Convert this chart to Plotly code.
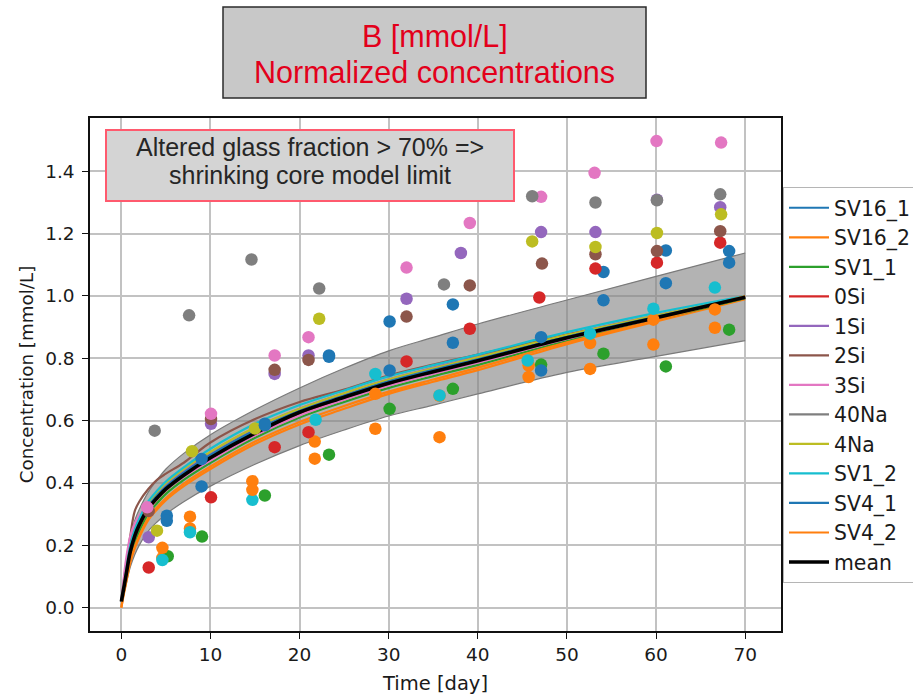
import plotly.graph_objects as go

# ---------------------------------------------------------------------------
# Measured boron concentrations (mmol/L) per experiment: sampling times (day)
# ---------------------------------------------------------------------------
t_SV16_1 = [5.1, 9.0, 16.1, 23.3, 30.1, 37.2, 47.1, 54.1, 61.1, 68.2]
c_SV16_1 = [0.295, 0.477, 0.590, 0.809, 0.918, 0.973, 0.868, 1.077, 1.146, 1.144]

t_SV16_2 = [4.6, 7.7, 14.7, 21.7, 28.5, 35.7, 45.7, 52.6, 59.7, 66.6]
c_SV16_2 = [0.160, 0.254, 0.406, 0.533, 0.686, 0.680, 0.777, 0.849, 0.924, 0.957]

t_SV1_1 = [5.2, 9.05, 16.1, 23.3, 30.1, 37.2, 47.1, 54.1, 61.1, 68.2]
c_SV1_1 = [0.165, 0.228, 0.360, 0.491, 0.638, 0.702, 0.780, 0.815, 0.774, 0.892]

t_0Si = [3.07, 10.06, 17.2, 21.0, 32.0, 39.1, 46.9, 53.2, 60.1, 67.2]
c_0Si = [0.129, 0.354, 0.515, 0.563, 0.790, 0.895, 0.995, 1.088, 1.107, 1.171]

t_1Si = [3.07, 10.06, 17.2, 21.0, 32.0, 38.1, 47.1, 53.2, 60.1, 67.2]
c_1Si = [0.226, 0.590, 0.750, 0.809, 0.991, 1.138, 1.205, 1.205, 1.309, 1.285]

t_2Si = [3.07, 10.06, 17.2, 21.0, 32.0, 39.1, 47.2, 53.2, 60.1, 67.2]
c_2Si = [0.310, 0.605, 0.763, 0.795, 0.934, 1.034, 1.104, 1.134, 1.144, 1.208]

t_3Si = [2.9, 10.06, 17.2, 21.0, 32.0, 39.1, 47.1, 53.1, 60.05, 67.3]
c_3Si = [0.322, 0.622, 0.809, 0.868, 1.091, 1.234, 1.318, 1.395, 1.497, 1.492]

t_40Na = [3.74, 7.6, 14.6, 22.2, 36.2, 46.1, 53.2, 60.1, 67.2]
c_40Na = [0.568, 0.938, 1.117, 1.024, 1.037, 1.320, 1.300, 1.307, 1.326]

t_4Na = [4.0, 7.93, 15.0, 22.2, 46.1, 53.2, 60.1, 67.3]
c_4Na = [0.247, 0.502, 0.575, 0.927, 1.175, 1.157, 1.202, 1.262]

t_SV1_2 = [4.6, 7.7, 14.7, 21.8, 28.5, 35.7, 45.6, 52.6, 59.7, 66.6]
c_SV1_2 = [0.153, 0.242, 0.346, 0.603, 0.750, 0.681, 0.793, 0.879, 0.959, 1.027]

t_SV4_1 = [5.1, 9.0, 16.1, 23.3, 30.1, 37.2, 47.1, 54.1, 61.1, 68.2]
c_SV4_1 = [0.279, 0.389, 0.585, 0.805, 0.761, 0.850, 0.761, 0.986, 1.041, 1.107]

t_SV4_2 = [4.6, 7.7, 14.7, 21.7, 28.5, 35.7, 45.7, 52.6, 59.7, 66.6]
c_SV4_2 = [0.192, 0.292, 0.378, 0.478, 0.574, 0.547, 0.740, 0.766, 0.844, 0.898]

# ---------------------------------------------------------------------------
# Shrinking-core model curves, evaluated on a common time grid (day)
# ---------------------------------------------------------------------------
t_model = [0, 0.25, 0.5, 1, 1.5, 2, 3, 4, 5, 7, 10, 15, 20, 25, 30, 35, 40, 50, 60, 70]

m_SV16_1 = [0.02, 0.06, 0.105, 0.19, 0.24, 0.275, 0.33, 0.365, 0.393, 0.438, 0.495, 0.573, 0.635, 0.685, 0.73, 0.767, 0.80, 0.872, 0.935, 0.997]
m_SV16_2 = [0.00, 0.04, 0.075, 0.145, 0.19, 0.225, 0.28, 0.315, 0.345, 0.39, 0.445, 0.525, 0.588, 0.638, 0.686, 0.725, 0.762, 0.845, 0.918, 0.99]
m_SV1_1 = [0.02, 0.05, 0.09, 0.165, 0.21, 0.245, 0.30, 0.335, 0.365, 0.41, 0.465, 0.545, 0.61, 0.66, 0.705, 0.743, 0.779, 0.856, 0.924, 0.993]
m_0Si = [0.02, 0.055, 0.095, 0.175, 0.225, 0.26, 0.313, 0.348, 0.377, 0.421, 0.477, 0.556, 0.623, 0.672, 0.717, 0.754, 0.789, 0.864, 0.929, 0.995]
m_1Si = [0.02, 0.07, 0.115, 0.20, 0.25, 0.285, 0.335, 0.368, 0.395, 0.44, 0.497, 0.577, 0.638, 0.688, 0.733, 0.77, 0.805, 0.876, 0.938, 0.998]
m_2Si = [0.02, 0.08, 0.13, 0.23, 0.31, 0.34, 0.38, 0.41, 0.43, 0.465, 0.53, 0.605, 0.66, 0.70, 0.745, 0.78, 0.812, 0.876, 0.935, 0.995]
m_3Si = [0.02, 0.09, 0.15, 0.23, 0.27, 0.295, 0.33, 0.355, 0.38, 0.42, 0.472, 0.552, 0.617, 0.667, 0.712, 0.75, 0.786, 0.862, 0.928, 0.995]
m_40Na = [0.02, 0.065, 0.105, 0.185, 0.235, 0.27, 0.322, 0.356, 0.385, 0.428, 0.484, 0.563, 0.63, 0.678, 0.722, 0.759, 0.794, 0.868, 0.931, 0.996]
m_4Na = [0.02, 0.06, 0.105, 0.195, 0.245, 0.28, 0.335, 0.37, 0.40, 0.445, 0.50, 0.578, 0.638, 0.688, 0.732, 0.768, 0.803, 0.875, 0.937, 0.998]
m_SV1_2 = [0.02, 0.06, 0.11, 0.20, 0.25, 0.285, 0.34, 0.375, 0.405, 0.45, 0.51, 0.59, 0.65, 0.697, 0.742, 0.778, 0.812, 0.884, 0.946, 1.0]
m_SV4_1 = [0.02, 0.06, 0.10, 0.185, 0.235, 0.27, 0.325, 0.36, 0.388, 0.433, 0.49, 0.567, 0.631, 0.68, 0.726, 0.763, 0.797, 0.869, 0.933, 0.997]
m_SV4_2 = [0.00, 0.045, 0.08, 0.15, 0.195, 0.23, 0.287, 0.322, 0.352, 0.398, 0.453, 0.533, 0.596, 0.647, 0.693, 0.732, 0.77, 0.851, 0.922, 1.0]

m_mean = [0.02, 0.06, 0.10, 0.18, 0.23, 0.265, 0.318, 0.352, 0.381, 0.425, 0.481, 0.56, 0.627, 0.675, 0.72, 0.757, 0.792, 0.866, 0.93, 0.996]
band_upper = [0.03, 0.08, 0.13, 0.22, 0.28, 0.315, 0.37, 0.41, 0.445, 0.495, 0.555, 0.635, 0.705, 0.768, 0.824, 0.867, 0.91, 0.987, 1.063, 1.138]
band_lower = [0.01, 0.04, 0.07, 0.13, 0.17, 0.20, 0.245, 0.275, 0.30, 0.34, 0.39, 0.46, 0.52, 0.57, 0.615, 0.65, 0.686, 0.755, 0.806, 0.857]

series_names = ["SV16_1", "SV16_2", "SV1_1", "0Si", "1Si", "2Si", "3Si",
                "40Na", "4Na", "SV1_2", "SV4_1", "SV4_2"]
series_colors = ["#1f77b4", "#ff7f0e", "#2ca02c", "#d62728", "#9467bd", "#8c564b",
                 "#e377c2", "#7f7f7f", "#bcbd22", "#17becf", "#1f77b4", "#ff7f0e"]

x_ticks = [0, 10, 20, 30, 40, 50, 60, 70]
y_ticks = [0.0, 0.2, 0.4, 0.6, 0.8, 1.0, 1.2, 1.4]

series = list(zip(
    series_names, series_colors,
    [t_SV16_1, t_SV16_2, t_SV1_1, t_0Si, t_1Si, t_2Si, t_3Si, t_40Na, t_4Na, t_SV1_2, t_SV4_1, t_SV4_2],
    [c_SV16_1, c_SV16_2, c_SV1_1, c_0Si, c_1Si, c_2Si, c_3Si, c_40Na, c_4Na, c_SV1_2, c_SV4_1, c_SV4_2],
    [m_SV16_1, m_SV16_2, m_SV1_1, m_0Si, m_1Si, m_2Si, m_3Si, m_40Na, m_4Na, m_SV1_2, m_SV4_1, m_SV4_2],
))

# ---------------------------------------------------------------------------
# Figure geometry (pixels)
# ---------------------------------------------------------------------------
W, H = 913, 696
ML, MR, MT, MB = 90, 132, 118, 65
PW, PH = W - ML - MR, H - MT - MB


def px_x(px):
    return (px - ML) / PW


def px_y(py):
    return (H - MB - py) / PH


fig = go.Figure()

# spread band of the model curves
fig.add_trace(go.Scatter(x=t_model, y=band_lower, mode="lines", line=dict(color="#7a7a7a", width=1.2, shape="spline"),
                         showlegend=False, hoverinfo="skip"))
fig.add_trace(go.Scatter(x=t_model, y=band_upper, mode="lines", line=dict(color="#7a7a7a", width=1.2, shape="spline"),
                         fill="tonexty", fillcolor="rgba(128,128,128,0.6)", showlegend=False, hoverinfo="skip"))

# model curve of each experiment
for name, color, t, c, m in series:
    fig.add_trace(go.Scatter(x=t_model, y=m, mode="lines", name=name, legendgroup=name,
                             line=dict(color=color, width=2.2, shape="spline")))

fig.add_trace(go.Scatter(x=t_model, y=m_mean, mode="lines", name="mean", legendgroup="mean",
                         line=dict(color="black", width=3.6, shape="spline")))

# measured points
for name, color, t, c, m in series:
    fig.add_trace(go.Scatter(x=t, y=c, mode="markers", legendgroup=name, showlegend=False,
                             marker=dict(color=color, size=12.5, line=dict(width=0))))

axis_font = dict(family="DejaVu Sans", size=18.5, color="#1a1a1a")
common_axis = dict(showgrid=True, gridcolor="#c2c2c2", gridwidth=1.5, zeroline=False,
                   showline=True, linecolor="#111111", linewidth=1.5, mirror=True,
                   ticks="outside", ticklen=6, tickwidth=1.3, tickcolor="#111111",
                   tickfont=axis_font)

fig.update_layout(
    width=W, height=H,
    margin=dict(l=ML, r=MR, t=MT, b=MB, autoexpand=False),
    plot_bgcolor="white", paper_bgcolor="white",
    xaxis=dict(range=[-3.52, 74.02], tickvals=x_ticks,
               title=dict(text="Time [day]", font=dict(family="DejaVu Sans", size=19.5, color="#1a1a1a"), standoff=12),
               **common_axis),
    yaxis=dict(range=[-0.0748, 1.571], tickvals=y_ticks, tickformat=".1f", ticklabelstandoff=4,
               title=dict(text="Concentration [mmol/L]", font=dict(family="DejaVu Sans", size=18.3, color="#1a1a1a"), standoff=7),
               **common_axis),
    legend=dict(x=px_x(783), y=px_y(187), xanchor="left", yanchor="top",
                bgcolor="white", bordercolor="#b5b5b5", borderwidth=1,
                font=dict(family="DejaVu Sans", size=20.4, color="#1a1a1a"),
                tracegroupgap=0, itemwidth=40),
    shapes=[
        # title box
        dict(type="rect", xref="paper", yref="paper",
             x0=px_x(223), x1=px_x(646), y0=px_y(98), y1=px_y(7),
             fillcolor="#c8c8c8", line=dict(color="#2b2b2b", width=1.5), layer="above"),
        # limit note box
        dict(type="rect", xref="paper", yref="paper",
             x0=px_x(106), x1=px_x(514), y0=px_y(201), y1=px_y(130),
             fillcolor="#d4d4d4", line=dict(color="#ff5a6e", width=2), layer="above"),
    ],
    annotations=[
        dict(text="B [mmol/L]", xref="paper", yref="paper", x=px_x(434.5), y=px_y(37),
             xanchor="center", yanchor="middle", showarrow=False,
             font=dict(family="Liberation Sans", size=30.5, color="#e3001b")),
        dict(text="Normalized concentrations", xref="paper", yref="paper", x=px_x(434.5), y=px_y(72),
             xanchor="center", yanchor="middle", showarrow=False,
             font=dict(family="Liberation Sans", size=30.5, color="#e3001b")),
        dict(text="Altered glass fraction > 70% =>", xref="paper", yref="paper", x=px_x(310), y=px_y(147),
             xanchor="center", yanchor="middle", showarrow=False,
             font=dict(family="Liberation Sans", size=25, color="#262626")),
        dict(text="shrinking core model limit", xref="paper", yref="paper", x=px_x(310), y=px_y(175),
             xanchor="center", yanchor="middle", showarrow=False,
             font=dict(family="Liberation Sans", size=25, color="#262626")),
    ],
)

fig.write_html("out.html")
